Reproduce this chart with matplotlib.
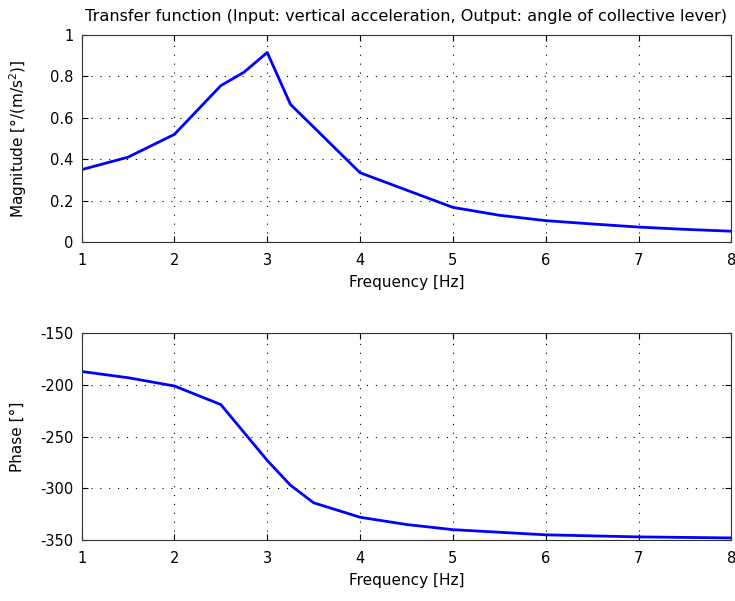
import matplotlib
matplotlib.use("Agg")
import matplotlib.pyplot as plt

plt.rcParams['font.family'] = ['DejaVu Sans']
plt.rcParams['axes.unicode_minus'] = False

# frequency response, read at the analysed frequencies
freq_mag = [1.0, 1.5, 2.0, 2.5, 2.75, 3.0, 3.25, 4.0, 5.0, 5.5, 6.0, 6.5, 7.0, 7.5, 8.0]
magnitude = [0.35, 0.41, 0.52, 0.755, 0.82, 0.915, 0.665, 0.335, 0.168, 0.13, 0.104, 0.088, 0.073, 0.062, 0.053]

freq_phase = [1.0, 1.5, 2.0, 2.5, 3.0, 3.25, 3.5, 4.0, 4.5, 5.0, 6.0, 7.0, 8.0]
phase = [-187, -193, -201, -219, -273, -297, -314, -328, -335, -340, -345, -347, -348]

x_ticks = [1, 2, 3, 4, 5, 6, 7, 8]


def style_axes(ax):
    ax.set_xlim(1, 8)
    ax.set_xticks(x_ticks)
    ax.grid(True, linestyle=(0, (1, 7)), color='black', linewidth=0.8)
    ax.tick_params(direction='in', top=True, right=True, length=4, labelsize=10.5)
    ax.tick_params(axis='x', pad=8)
    ax.tick_params(axis='y', pad=6)
    for s in ax.spines.values():
        s.set_color('#333333')
    ax.set_xlabel('Frequency [Hz]', fontsize=11, labelpad=5)


fig = plt.figure(figsize=(7.35, 6.01), dpi=100)

ax1 = fig.add_axes([0.111, 0.597, 0.884, 0.345])
ax1.plot(freq_mag, magnitude, color='#0000ff', linewidth=2)
ax1.set_ylim(0, 1)
ax1.set_yticks([0, 0.2, 0.4, 0.6, 0.8, 1])
ax1.set_yticklabels(['0', '0.2', '0.4', '0.6', '0.8', '1'])
style_axes(ax1)
ax1.set_ylabel('Magnitude [°/(m/s$^2$)]', fontsize=11, labelpad=15)
ax1.set_title('Transfer function (Input: vertical acceleration, Output: angle of collective lever)',
              fontsize=11.6, pad=10)

ax2 = fig.add_axes([0.111, 0.1015, 0.884, 0.344])
ax2.plot(freq_phase, phase, color='#0000ff', linewidth=2)
ax2.set_ylim(-350, -150)
ax2.set_yticks([-350, -300, -250, -200, -150])
style_axes(ax2)
ax2.set_ylabel('Phase [°]', fontsize=11, labelpad=11)

fig.savefig('out.png', dpi=100)
